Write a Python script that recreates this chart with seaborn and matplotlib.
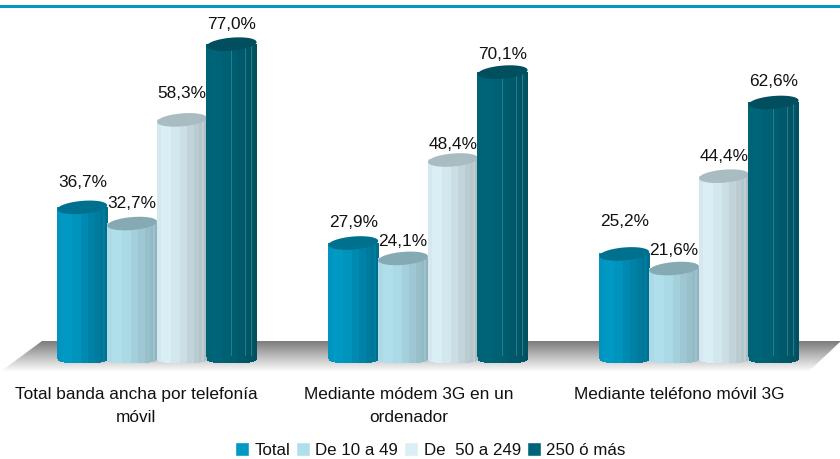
#!/usr/bin/env python3

import numpy as np
import pandas as pd
import matplotlib.pyplot as plt
import matplotlib.colors as mcolors
from matplotlib.patches import Polygon, Rectangle
from matplotlib.transforms import ScaledTranslation
import seaborn as sns

categories = [
    "Total banda ancha por telefonía\nmóvil",
    "Mediante módem 3G en un\nordenador",
    "Mediante teléfono móvil 3G",
]
series_names = ["Total", "De 10 a 49", "De  50 a 249", "250 ó más"]
total = [36.7, 27.9, 25.2]
de_10_49 = [32.7, 24.1, 21.6]
de_50_249 = [58.3, 48.4, 44.4]
mas_250 = [77.0, 70.1, 62.6]

colors = ["#0099C4", "#B0DFEC", "#DAEEF5", "#006478"]
top_colors = ["#00708F", "#86AAB4", "#A9BCC2", "#004E5E"]
end_colors = ["#006F8E", "#8FB4BE", "#AEBFC4", "#00505F"]

# height of each value label above its bar top, px (series by series)
label_gap = [
    [25, 21, 32],
    [20, 17, 18],
    [26, 15, 20],
    [20, 18, 21],
]
# horizontal shift of the category labels from the group centre, px
tick_shift = [-21, -19, -20]

# band edges across a cylinder, and how far each band is towards the dark side
band_edges = [0, 0.10, 0.30, 0.48, 0.62, 0.76, 0.86, 0.92, 0.96, 1.0]
band_shade = [0.12, 0.0, 0.15, 0.35, 0.55, 0.72, 0.85, 0.65, 1.0]

W, H = 840, 459
PX_PER_UNIT = 4.05
BASE_PX = 356
TOP_PX = 8
GROUP0_PX = 157
GROUP_STEP_PX = 271

df = pd.DataFrame(
    {
        "categoria": categories * 4,
        "serie": np.repeat(series_names, 3),
        "valor": total + de_10_49 + de_50_249 + mas_250,
    }
)

sns.set_theme(style="white")
plt.rcParams["font.family"] = ["Liberation Sans", "DejaVu Sans"]

fig = plt.figure(figsize=(W / 100, H / 100), dpi=100)

# floor and top rule, in pixel coordinates behind the chart
bg = fig.add_axes([0, 0, 1, 1], zorder=-1)
floor_cmap = mcolors.LinearSegmentedColormap.from_list("floor", ["#7C7C7C", "#FFFFFF"])
grad = bg.imshow(
    np.linspace(0, 1, 64).reshape(-1, 1),
    extent=(0, W, 372, 341),
    aspect="auto",
    cmap=floor_cmap,
)
floor = Polygon(
    [(42, 341), (840, 341), (840, 342), (808, 372), (0, 372)],
    transform=bg.transData,
    facecolor="none",
    edgecolor="none",
)
bg.add_patch(floor)
grad.set_clip_path(floor)
bg.set_xlim(0, W)
bg.set_ylim(H, 0)
bg.axis("off")
bg.add_patch(Rectangle((0, 5), W, 3, color="#0099C4", lw=0))

ax = fig.add_axes([0, (H - BASE_PX) / H, 1, (BASE_PX - TOP_PX) / H])
ax.patch.set_alpha(0)

sns.barplot(
    data=df,
    x="categoria",
    y="valor",
    hue="serie",
    hue_order=series_names,
    palette=colors,
    width=0.735,
    gap=0,
    saturation=1,
    ax=ax,
)

ax.set_xlim(-GROUP0_PX / GROUP_STEP_PX, (W - GROUP0_PX) / GROUP_STEP_PX)
ax.set_ylim(0, (BASE_PX - TOP_PX) / PX_PER_UNIT)
ax.set_xlabel("")
ax.set_ylabel("")
ax.set_yticks([])
ax.tick_params(axis="x", length=0, pad=22, labelsize=12.4, labelcolor="#111111")
for lab, dx in zip(ax.get_xticklabels(), tick_shift):
    lab.set_linespacing(1.72)
    lab.set_transform(lab.get_transform() + ScaledTranslation(dx / 100, 0, fig.dpi_scale_trans))
sns.despine(ax=ax, left=True, bottom=True)

cap_h = 13 / PX_PER_UNIT
for i, cont in enumerate(ax.containers):
    z = 3 + i
    for k, bar in enumerate(cont):
        x0, w, v = bar.get_x(), bar.get_width(), bar.get_height()
        bar.set_visible(False)
        for j, s in enumerate(band_shade):
            c = np.array(mcolors.to_rgb(colors[i])) * (1 - s) + np.array(
                mcolors.to_rgb(end_colors[i])
            ) * s
            # each band runs from the bar top down to the rounded foot
            u = np.linspace(band_edges[j], band_edges[j + 1], 8)
            foot = -(cap_h / 2) * (1 - np.abs(2 * u - 1) ** 4) ** 0.25
            xs = x0 + u * w
            pts = [(xs[0], v)] + list(zip(xs, foot)) + [(xs[-1], v)]
            ax.add_patch(
                Polygon(
                    pts,
                    facecolor=c,
                    edgecolor="none",
                    antialiased=False,
                    zorder=z + 0.1,
                    clip_on=False,
                )
            )
        if i == 3:
            # thin light seams on the dark cylinders
            ax.vlines(
                [x0 + 0.48 * w, x0 + 0.76 * w, x0 + 0.88 * w],
                -cap_h / 2,
                v,
                color="#2F8494",
                lw=0.6,
                zorder=z + 0.15,
            )
        # slightly tilted cap on top of the cylinder
        t = np.linspace(0, 2 * np.pi, 60)
        cap_x = x0 + w / 2 + (w / 2) * np.cos(t)
        cap_y = v + (cap_h / 2) * np.sin(t) + 0.5 * np.cos(t)
        ax.add_patch(
            Polygon(
                np.column_stack([cap_x, cap_y]),
                facecolor=top_colors[i],
                edgecolor="none",
                zorder=z + 0.2,
                clip_on=False,
            )
        )
        ax.annotate(
            f"{v:.1f}".replace(".", ",") + "%",
            (x0 + w / 2, v),
            xytext=(0, label_gap[i][k] * 0.72),
            textcoords="offset points",
            ha="center",
            va="center",
            fontsize=12.4,
            color="#111111",
            zorder=20,
        )

sns.move_legend(
    ax,
    "lower center",
    bbox_to_anchor=(0.512, (BASE_PX - H + 1) / (BASE_PX - TOP_PX)),
    ncol=4,
    title=None,
    frameon=False,
    fontsize=12.2,
    handlelength=0.85,
    handleheight=0.85,
    handletextpad=0.3,
    columnspacing=0.35,
    borderpad=0,
    borderaxespad=0,
    labelcolor="#111111",
)

fig.savefig("out.png", dpi=100)
plt.close(fig)
